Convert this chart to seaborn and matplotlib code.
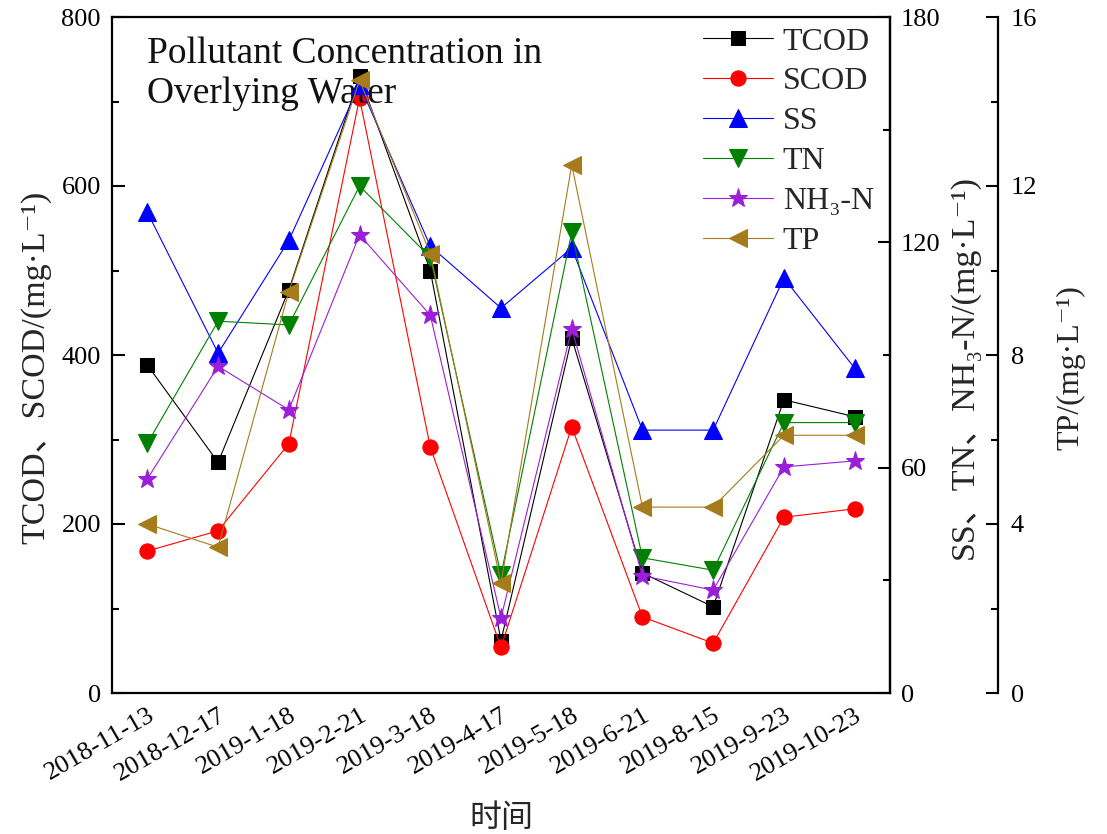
import numpy as np
import pandas as pd
import matplotlib
matplotlib.use("Agg")
import matplotlib.pyplot as plt
import seaborn as sns
from matplotlib.ticker import FixedLocator, MultipleLocator

# Sampling dates
dates = ["2018-11-13", "2018-12-17", "2019-1-18", "2019-2-21", "2019-3-18",
         "2019-4-17", "2019-5-18", "2019-6-21", "2019-8-15", "2019-9-23",
         "2019-10-23"]

# Left axis (mg/L)
tcod = [388, 273, 477, 730, 500, 62, 420, 142, 102, 347, 327]
scod = [168, 192, 295, 704, 291, 54, 315, 90, 59, 208, 218]
# Middle axis (mg/L)
ss = [128, 90.5, 120.5, 162, 119, 102.5, 118.5, 70, 70, 110.5, 86.5]
tn = [66.5, 99, 98, 135, 116, 31.4, 122.7, 36, 32.7, 72, 72]
nh3n = [57, 87, 75.4, 122, 100.6, 20, 97, 31.2, 27.4, 60.2, 61.8]
# Right axis (mg/L)
tp = [4.0, 3.45, 9.5, 14.5, 10.4, 2.6, 12.5, 4.4, 4.4, 6.1, 6.1]

sns.set_theme(style="white")
plt.rcParams["font.family"] = ["Liberation Serif", "DejaVu Serif", "Noto Sans CJK SC"]
plt.rcParams["axes.linewidth"] = 1.6
plt.rcParams["axes.edgecolor"] = "black"

FS_TICK = 19
FS_LABEL = 24.5
FS_LEG = 23

fig = plt.figure(figsize=(11.07, 8.34), dpi=100)
ax = fig.add_axes([112 / 1107, 1 - 693 / 834, (890 - 112) / 1107, (693 - 17) / 834])
ax2 = ax.twinx()
ax3 = ax.twinx()
ax3.spines["right"].set_position(("axes", 1 + (998 - 890) / 778))

x = np.arange(len(dates))
df = pd.DataFrame({"x": x, "TCOD": tcod, "SCOD": scod, "SS": ss, "TN": tn,
                   "NH3N": nh3n, "TP": tp})

series = [
    (ax, "TCOD", "TCOD", "black", "s", 9.5),
    (ax, "SCOD", "SCOD", "#FF0000", "o", 11),
    (ax2, "SS", "SS", "#0000FF", "^", 12.5),
    (ax2, "TN", "TN", "#008000", "v", 12.5),
    (ax2, "NH3N", "NH\u2083-N", "#9A1FD6", "*", 14),
    (ax3, "TP", "TP", "#A57B1C", "<", 12.5),
]
handles = []
for a, col, lab, c, m, ms in series:
    sns.lineplot(data=df, x="x", y=col, ax=a, color=c, marker=m, markersize=ms,
                 markeredgecolor=c, linewidth=0.8, label=lab, legend=False)
    handles.append(a.lines[-1])

ax.set_xlim(-0.5, 10.5)
ax.set_ylim(0, 800)
ax2.set_ylim(0, 180)
ax3.set_ylim(0, 16)

ax.set_xticks(x)
ax.set_xticklabels(dates, rotation=30, ha="right", rotation_mode="anchor",
                   fontsize=FS_TICK)
ax.xaxis.set_minor_locator(FixedLocator(np.arange(0.5, 10, 1)))
ax.yaxis.set_major_locator(FixedLocator([0, 200, 400, 600, 800]))
ax.yaxis.set_minor_locator(MultipleLocator(100))
ax2.yaxis.set_major_locator(FixedLocator([0, 60, 120, 180]))
ax2.yaxis.set_minor_locator(MultipleLocator(30))
ax3.yaxis.set_major_locator(FixedLocator([0, 4, 8, 12, 16]))
ax3.yaxis.set_minor_locator(MultipleLocator(2))

for a in (ax, ax2, ax3):
    a.tick_params(which="both", direction="in", width=1.5, color="black",
                  labelsize=FS_TICK, labelcolor="black")
    a.tick_params(which="major", length=9)
    a.tick_params(which="minor", length=5)
    a.grid(False)
ax.tick_params(axis="x", which="major", length=9.5, pad=8)
ax.tick_params(axis="y", pad=8)
ax2.tick_params(axis="y", pad=8)
ax3.tick_params(axis="y", pad=9)
ax.tick_params(axis="x", which="both", top=False)
ax.tick_params(axis="y", which="both", right=False)

for a in (ax2, ax3):
    for s in ("left", "top", "bottom"):
        a.spines[s].set_visible(False)
for s in ("left", "right", "top", "bottom"):
    ax.spines[s].set_visible(True)
    ax.spines[s].set_color("black")
ax2.spines["right"].set_color("black")
ax3.spines["right"].set_color("black")

unit = "/(mg\u00b7L\u207b\u00b9)"
ax.set_xlabel("时间", fontsize=23, family=["Noto Sans CJK SC"], labelpad=12)
ax.set_ylabel("TCOD、SCOD" + unit, fontsize=FS_LABEL, labelpad=7)
ax2.set_ylabel("SS、TN、NH\u2083-N" + unit, fontsize=FS_LABEL, labelpad=6)
ax3.set_ylabel("TP" + unit, fontsize=23, labelpad=14)
ax.yaxis.label.set_y(0.482)
ax2.yaxis.label.set_y(0.482)
ax3.yaxis.label.set_y(0.482)

ax.text(0.045, 0.971, "Pollutant Concentration in\nOverlying Water",
        transform=ax.transAxes, ha="left", va="top", fontsize=27,
        linespacing=1.2, color="#111111")

leg = ax3.legend(handles=handles, loc="upper left",
                 bbox_to_anchor=((703 - 112) / 778, 0.985), frameon=False,
                 fontsize=FS_LEG, handlelength=2.2, handletextpad=0.3,
                 labelspacing=0.33, borderpad=0, borderaxespad=0)

fig.savefig("out.png", dpi=100)
